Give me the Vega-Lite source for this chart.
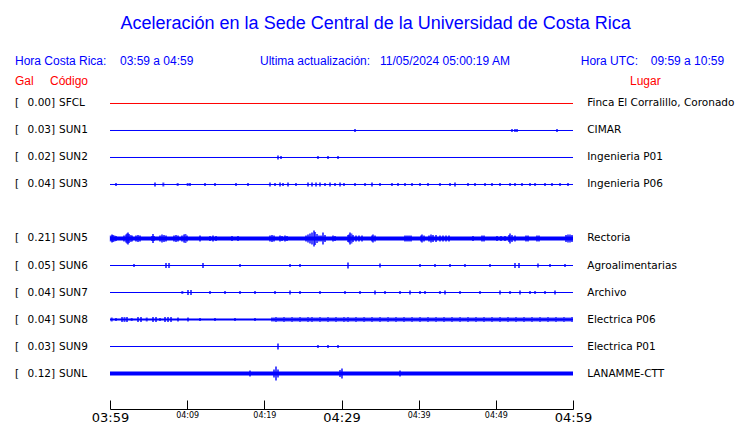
{
  "$schema": "https://vega.github.io/schema/vega-lite/v6.json",
  "width": 463,
  "height": 333,
  "autosize": {"type": "none"},
  "padding": {"left": 110, "top": 76, "right": 167, "bottom": 14},
  "background": "white",
  "config": {"view": {"stroke": null}, "axisY": {"disable": true}},
  "datasets": {
    "estaciones": [
      {"codigo": "SFCL", "gal": 0.00, "lugar": "Finca El Corralillo, Coronado", "fila": 1, "estado": "sin datos", "ruido": 1},
      {"codigo": "SUN1", "gal": 0.03, "lugar": "CIMAR", "fila": 2, "estado": "activa", "ruido": 1},
      {"codigo": "SUN2", "gal": 0.02, "lugar": "Ingenieria P01", "fila": 3, "estado": "activa", "ruido": 1},
      {"codigo": "SUN3", "gal": 0.04, "lugar": "Ingenieria P06", "fila": 4, "estado": "activa", "ruido": 1},
      {"codigo": "SUN5", "gal": 0.21, "lugar": "Rectoria", "fila": 6, "estado": "activa", "ruido": 4},
      {"codigo": "SUN6", "gal": 0.05, "lugar": "Agroalimentarias", "fila": 7, "estado": "activa", "ruido": 1},
      {"codigo": "SUN7", "gal": 0.04, "lugar": "Archivo", "fila": 8, "estado": "activa", "ruido": 1},
      {"codigo": "SUN8", "gal": 0.04, "lugar": "Electrica P06", "fila": 9, "estado": "activa", "ruido": 2},
      {"codigo": "SUN9", "gal": 0.03, "lugar": "Electrica P01", "fila": 10, "estado": "activa", "ruido": 1},
      {"codigo": "SUNL", "gal": 0.12, "lugar": "LANAMME-CTT", "fila": 11, "estado": "activa", "ruido": 4}
    ],
    "picos": [
      {"s": "SUN1", "t": 31.75, "a": 3}, {"s": "SUN1", "t": 52.09, "a": 3}, {"s": "SUN1", "t": 52.48, "a": 3}, {"s": "SUN1", "t": 52.74, "a": 3}, {"s": "SUN1", "t": 57.93, "a": 3},
      {"s": "SUN2", "t": 21.77, "a": 4}, {"s": "SUN2", "t": 22.16, "a": 3}, {"s": "SUN2", "t": 26.95, "a": 3}, {"s": "SUN2", "t": 28.25, "a": 3}, {"s": "SUN2", "t": 29.55, "a": 3},
      {"s": "SUN3", "t": 0.78, "a": 3}, {"s": "SUN3", "t": 5.83, "a": 4}, {"s": "SUN3", "t": 6.91, "a": 4}, {"s": "SUN3", "t": 8.77, "a": 3}, {"s": "SUN3", "t": 10.07, "a": 3}, {"s": "SUN3", "t": 10.37, "a": 3}, {"s": "SUN3", "t": 12.31, "a": 3}, {"s": "SUN3", "t": 13.61, "a": 3}, {"s": "SUN3", "t": 16.33, "a": 3}, {"s": "SUN3", "t": 17.88, "a": 3}, {"s": "SUN3", "t": 20.73, "a": 4}, {"s": "SUN3", "t": 21.38, "a": 3}, {"s": "SUN3", "t": 22.03, "a": 4}, {"s": "SUN3", "t": 22.42, "a": 3}, {"s": "SUN3", "t": 23.07, "a": 4}, {"s": "SUN3", "t": 24.1, "a": 3}, {"s": "SUN3", "t": 25.66, "a": 4}, {"s": "SUN3", "t": 26.18, "a": 4}, {"s": "SUN3", "t": 26.7, "a": 4}, {"s": "SUN3", "t": 27.21, "a": 4}, {"s": "SUN3", "t": 27.86, "a": 3}, {"s": "SUN3", "t": 28.51, "a": 4}, {"s": "SUN3", "t": 29.16, "a": 3}, {"s": "SUN3", "t": 29.81, "a": 4}, {"s": "SUN3", "t": 30.32, "a": 3}, {"s": "SUN3", "t": 31.75, "a": 3}, {"s": "SUN3", "t": 33.05, "a": 3}, {"s": "SUN3", "t": 33.95, "a": 4}, {"s": "SUN3", "t": 34.99, "a": 3}, {"s": "SUN3", "t": 36.54, "a": 3}, {"s": "SUN3", "t": 37.32, "a": 3}, {"s": "SUN3", "t": 38.23, "a": 3}, {"s": "SUN3", "t": 39.14, "a": 3}, {"s": "SUN3", "t": 40.17, "a": 3}, {"s": "SUN3", "t": 41.21, "a": 3}, {"s": "SUN3", "t": 42.76, "a": 3}, {"s": "SUN3", "t": 44.06, "a": 3}, {"s": "SUN3", "t": 44.71, "a": 4}, {"s": "SUN3", "t": 46.39, "a": 3}, {"s": "SUN3", "t": 47.3, "a": 3}, {"s": "SUN3", "t": 48.6, "a": 3}, {"s": "SUN3", "t": 49.5, "a": 3}, {"s": "SUN3", "t": 50.54, "a": 3}, {"s": "SUN3", "t": 51.84, "a": 3}, {"s": "SUN3", "t": 52.48, "a": 3}, {"s": "SUN3", "t": 53.39, "a": 3}, {"s": "SUN3", "t": 54.43, "a": 3}, {"s": "SUN3", "t": 55.08, "a": 3}, {"s": "SUN3", "t": 56.37, "a": 3}, {"s": "SUN3", "t": 57.28, "a": 3}, {"s": "SUN3", "t": 58.32, "a": 3}, {"s": "SUN3", "t": 59.35, "a": 3},
      {"s": "SUN5", "t": 0.1, "a": 6}, {"s": "SUN5", "t": 0.26, "a": 8}, {"s": "SUN5", "t": 0.39, "a": 7}, {"s": "SUN5", "t": 0.58, "a": 6}, {"s": "SUN5", "t": 0.78, "a": 5},
      {"s": "SUN5", "t": 1.81, "a": 6}, {"s": "SUN5", "t": 2.07, "a": 8}, {"s": "SUN5", "t": 2.2, "a": 10}, {"s": "SUN5", "t": 2.33, "a": 12}, {"s": "SUN5", "t": 2.46, "a": 9}, {"s": "SUN5", "t": 2.66, "a": 7}, {"s": "SUN5", "t": 2.85, "a": 6},
      {"s": "SUN5", "t": 3.37, "a": 6}, {"s": "SUN5", "t": 3.63, "a": 7}, {"s": "SUN5", "t": 3.89, "a": 6},
      {"s": "SUN5", "t": 5.44, "a": 5}, {"s": "SUN5", "t": 5.57, "a": 9}, {"s": "SUN5", "t": 5.7, "a": 5},
      {"s": "SUN5", "t": 6.48, "a": 6}, {"s": "SUN5", "t": 6.74, "a": 8}, {"s": "SUN5", "t": 7.0, "a": 7}, {"s": "SUN5", "t": 7.26, "a": 6},
      {"s": "SUN5", "t": 8.29, "a": 6}, {"s": "SUN5", "t": 8.55, "a": 7}, {"s": "SUN5", "t": 8.81, "a": 6},
      {"s": "SUN5", "t": 9.33, "a": 6}, {"s": "SUN5", "t": 9.59, "a": 8}, {"s": "SUN5", "t": 9.78, "a": 9}, {"s": "SUN5", "t": 9.98, "a": 6},
      {"s": "SUN5", "t": 11.66, "a": 6},
      {"s": "SUN5", "t": 12.96, "a": 5}, {"s": "SUN5", "t": 13.35, "a": 6}, {"s": "SUN5", "t": 13.74, "a": 5},
      {"s": "SUN5", "t": 15.81, "a": 5}, {"s": "SUN5", "t": 16.59, "a": 5},
      {"s": "SUN5", "t": 20.73, "a": 6}, {"s": "SUN5", "t": 20.99, "a": 7}, {"s": "SUN5", "t": 21.25, "a": 6},
      {"s": "SUN5", "t": 22.03, "a": 6}, {"s": "SUN5", "t": 22.29, "a": 5}, {"s": "SUN5", "t": 22.68, "a": 6}, {"s": "SUN5", "t": 22.94, "a": 5},
      {"s": "SUN5", "t": 25.4, "a": 6}, {"s": "SUN5", "t": 25.66, "a": 8}, {"s": "SUN5", "t": 25.92, "a": 10}, {"s": "SUN5", "t": 26.18, "a": 12}, {"s": "SUN5", "t": 26.44, "a": 16}, {"s": "SUN5", "t": 26.57, "a": 13}, {"s": "SUN5", "t": 26.83, "a": 9}, {"s": "SUN5", "t": 27.08, "a": 6},
      {"s": "SUN5", "t": 27.34, "a": 6}, {"s": "SUN5", "t": 27.6, "a": 12}, {"s": "SUN5", "t": 27.86, "a": 7},
      {"s": "SUN5", "t": 28.9, "a": 6}, {"s": "SUN5", "t": 29.16, "a": 5},
      {"s": "SUN5", "t": 30.84, "a": 7}, {"s": "SUN5", "t": 30.97, "a": 8}, {"s": "SUN5", "t": 31.1, "a": 12}, {"s": "SUN5", "t": 31.29, "a": 10}, {"s": "SUN5", "t": 31.49, "a": 7},
      {"s": "SUN5", "t": 31.88, "a": 6}, {"s": "SUN5", "t": 32.27, "a": 6}, {"s": "SUN5", "t": 32.66, "a": 6},
      {"s": "SUN5", "t": 33.95, "a": 6}, {"s": "SUN5", "t": 34.08, "a": 8}, {"s": "SUN5", "t": 34.34, "a": 6},
      {"s": "SUN5", "t": 38.23, "a": 6}, {"s": "SUN5", "t": 38.49, "a": 6}, {"s": "SUN5", "t": 38.75, "a": 6}, {"s": "SUN5", "t": 39.01, "a": 6},
      {"s": "SUN5", "t": 40.3, "a": 6}, {"s": "SUN5", "t": 40.43, "a": 8}, {"s": "SUN5", "t": 40.69, "a": 6},
      {"s": "SUN5", "t": 41.34, "a": 6}, {"s": "SUN5", "t": 41.6, "a": 8}, {"s": "SUN5", "t": 41.86, "a": 7}, {"s": "SUN5", "t": 42.25, "a": 7},
      {"s": "SUN5", "t": 42.76, "a": 6}, {"s": "SUN5", "t": 43.15, "a": 6}, {"s": "SUN5", "t": 43.54, "a": 6}, {"s": "SUN5", "t": 43.93, "a": 6},
      {"s": "SUN5", "t": 47.04, "a": 5}, {"s": "SUN5", "t": 48.21, "a": 6}, {"s": "SUN5", "t": 48.47, "a": 6},
      {"s": "SUN5", "t": 50.15, "a": 5}, {"s": "SUN5", "t": 50.67, "a": 5}, {"s": "SUN5", "t": 51.19, "a": 5},
      {"s": "SUN5", "t": 51.71, "a": 7}, {"s": "SUN5", "t": 51.84, "a": 10}, {"s": "SUN5", "t": 52.09, "a": 7}, {"s": "SUN5", "t": 52.48, "a": 6},
      {"s": "SUN5", "t": 53.91, "a": 6}, {"s": "SUN5", "t": 54.17, "a": 6}, {"s": "SUN5", "t": 55.33, "a": 6}, {"s": "SUN5", "t": 55.59, "a": 6},
      {"s": "SUN5", "t": 59.09, "a": 7}, {"s": "SUN5", "t": 59.35, "a": 8}, {"s": "SUN5", "t": 59.61, "a": 8}, {"s": "SUN5", "t": 59.87, "a": 7},
      {"s": "SUN6", "t": 3.11, "a": 3}, {"s": "SUN6", "t": 7.26, "a": 5}, {"s": "SUN6", "t": 7.65, "a": 5}, {"s": "SUN6", "t": 12.05, "a": 5}, {"s": "SUN6", "t": 16.85, "a": 3}, {"s": "SUN6", "t": 23.33, "a": 3}, {"s": "SUN6", "t": 24.62, "a": 3}, {"s": "SUN6", "t": 30.84, "a": 6}, {"s": "SUN6", "t": 34.99, "a": 4}, {"s": "SUN6", "t": 40.17, "a": 3}, {"s": "SUN6", "t": 42.12, "a": 3}, {"s": "SUN6", "t": 44.06, "a": 3}, {"s": "SUN6", "t": 46.0, "a": 3}, {"s": "SUN6", "t": 49.24, "a": 3}, {"s": "SUN6", "t": 52.48, "a": 5}, {"s": "SUN6", "t": 53.0, "a": 5}, {"s": "SUN6", "t": 55.46, "a": 4}, {"s": "SUN6", "t": 57.02, "a": 3}, {"s": "SUN6", "t": 58.96, "a": 3},
      {"s": "SUN7", "t": 9.37, "a": 3}, {"s": "SUN7", "t": 10.11, "a": 5}, {"s": "SUN7", "t": 10.5, "a": 5}, {"s": "SUN7", "t": 12.96, "a": 3}, {"s": "SUN7", "t": 14.9, "a": 3}, {"s": "SUN7", "t": 16.85, "a": 3}, {"s": "SUN7", "t": 18.79, "a": 3}, {"s": "SUN7", "t": 21.38, "a": 3}, {"s": "SUN7", "t": 23.33, "a": 4}, {"s": "SUN7", "t": 24.62, "a": 3}, {"s": "SUN7", "t": 27.21, "a": 3}, {"s": "SUN7", "t": 30.45, "a": 3}, {"s": "SUN7", "t": 32.4, "a": 3}, {"s": "SUN7", "t": 34.34, "a": 4}, {"s": "SUN7", "t": 35.64, "a": 3}, {"s": "SUN7", "t": 37.58, "a": 3}, {"s": "SUN7", "t": 38.88, "a": 4}, {"s": "SUN7", "t": 40.17, "a": 3}, {"s": "SUN7", "t": 40.82, "a": 3}, {"s": "SUN7", "t": 42.76, "a": 3}, {"s": "SUN7", "t": 43.41, "a": 4}, {"s": "SUN7", "t": 45.36, "a": 3}, {"s": "SUN7", "t": 47.95, "a": 3}, {"s": "SUN7", "t": 50.54, "a": 4}, {"s": "SUN7", "t": 51.84, "a": 3}, {"s": "SUN7", "t": 53.13, "a": 4}, {"s": "SUN7", "t": 54.43, "a": 3}, {"s": "SUN7", "t": 55.08, "a": 3}, {"s": "SUN7", "t": 56.37, "a": 3}, {"s": "SUN7", "t": 57.67, "a": 4},
      {"s": "SUN8", "t": 0.22, "a": 4}, {"s": "SUN8", "t": 0.78, "a": 3}, {"s": "SUN8", "t": 1.56, "a": 5}, {"s": "SUN8", "t": 1.88, "a": 5}, {"s": "SUN8", "t": 2.2, "a": 5}, {"s": "SUN8", "t": 2.81, "a": 3}, {"s": "SUN8", "t": 3.63, "a": 5}, {"s": "SUN8", "t": 4.02, "a": 5}, {"s": "SUN8", "t": 4.76, "a": 4}, {"s": "SUN8", "t": 5.57, "a": 5}, {"s": "SUN8", "t": 5.96, "a": 5}, {"s": "SUN8", "t": 6.48, "a": 3}, {"s": "SUN8", "t": 7.13, "a": 5}, {"s": "SUN8", "t": 7.52, "a": 5}, {"s": "SUN8", "t": 7.91, "a": 5}, {"s": "SUN8", "t": 8.81, "a": 4}, {"s": "SUN8", "t": 10.11, "a": 4}, {"s": "SUN8", "t": 11.66, "a": 3}, {"s": "SUN8", "t": 13.61, "a": 3}, {"s": "SUN8", "t": 16.2, "a": 3}, {"s": "SUN8", "t": 18.79, "a": 3},
      {"s": "SUN8", "t": 20.99, "a": 4}, {"s": "SUN8", "t": 21.25, "a": 4}, {"s": "SUN8", "t": 21.51, "a": 5}, {"s": "SUN8", "t": 21.77, "a": 4}, {"s": "SUN8", "t": 22.03, "a": 4}, {"s": "SUN8", "t": 22.29, "a": 4}, {"s": "SUN8", "t": 22.55, "a": 5}, {"s": "SUN8", "t": 22.81, "a": 4}, {"s": "SUN8", "t": 23.07, "a": 4}, {"s": "SUN8", "t": 23.33, "a": 4}, {"s": "SUN8", "t": 23.59, "a": 5}, {"s": "SUN8", "t": 23.85, "a": 4}, {"s": "SUN8", "t": 24.1, "a": 4}, {"s": "SUN8", "t": 24.36, "a": 4}, {"s": "SUN8", "t": 24.62, "a": 5}, {"s": "SUN8", "t": 24.88, "a": 4}, {"s": "SUN8", "t": 25.14, "a": 4}, {"s": "SUN8", "t": 25.4, "a": 4}, {"s": "SUN8", "t": 25.66, "a": 5}, {"s": "SUN8", "t": 25.92, "a": 4}, {"s": "SUN8", "t": 26.18, "a": 5}, {"s": "SUN8", "t": 26.44, "a": 4}, {"s": "SUN8", "t": 26.7, "a": 4}, {"s": "SUN8", "t": 26.95, "a": 4}, {"s": "SUN8", "t": 27.21, "a": 5}, {"s": "SUN8", "t": 27.47, "a": 4}, {"s": "SUN8", "t": 27.73, "a": 4}, {"s": "SUN8", "t": 27.99, "a": 4}, {"s": "SUN8", "t": 28.25, "a": 5}, {"s": "SUN8", "t": 28.51, "a": 4}, {"s": "SUN8", "t": 28.77, "a": 4}, {"s": "SUN8", "t": 29.03, "a": 4}, {"s": "SUN8", "t": 29.29, "a": 5}, {"s": "SUN8", "t": 29.55, "a": 4}, {"s": "SUN8", "t": 29.81, "a": 4}, {"s": "SUN8", "t": 30.06, "a": 4}, {"s": "SUN8", "t": 30.32, "a": 5}, {"s": "SUN8", "t": 30.58, "a": 4}, {"s": "SUN8", "t": 30.84, "a": 5}, {"s": "SUN8", "t": 31.1, "a": 4}, {"s": "SUN8", "t": 31.36, "a": 4}, {"s": "SUN8", "t": 31.62, "a": 4}, {"s": "SUN8", "t": 31.88, "a": 5}, {"s": "SUN8", "t": 32.14, "a": 4}, {"s": "SUN8", "t": 32.4, "a": 4}, {"s": "SUN8", "t": 32.66, "a": 4}, {"s": "SUN8", "t": 32.92, "a": 5}, {"s": "SUN8", "t": 33.17, "a": 4}, {"s": "SUN8", "t": 33.43, "a": 4}, {"s": "SUN8", "t": 33.69, "a": 4}, {"s": "SUN8", "t": 33.95, "a": 5}, {"s": "SUN8", "t": 34.21, "a": 4}, {"s": "SUN8", "t": 34.47, "a": 4}, {"s": "SUN8", "t": 34.73, "a": 4}, {"s": "SUN8", "t": 34.99, "a": 5}, {"s": "SUN8", "t": 35.25, "a": 4}, {"s": "SUN8", "t": 35.51, "a": 4}, {"s": "SUN8", "t": 35.77, "a": 4}, {"s": "SUN8", "t": 36.03, "a": 5}, {"s": "SUN8", "t": 36.29, "a": 4}, {"s": "SUN8", "t": 36.54, "a": 4}, {"s": "SUN8", "t": 36.8, "a": 4}, {"s": "SUN8", "t": 37.06, "a": 5}, {"s": "SUN8", "t": 37.32, "a": 4}, {"s": "SUN8", "t": 37.58, "a": 4}, {"s": "SUN8", "t": 37.84, "a": 4}, {"s": "SUN8", "t": 38.1, "a": 5}, {"s": "SUN8", "t": 38.36, "a": 4}, {"s": "SUN8", "t": 38.62, "a": 4}, {"s": "SUN8", "t": 38.88, "a": 4}, {"s": "SUN8", "t": 39.14, "a": 5}, {"s": "SUN8", "t": 39.4, "a": 4}, {"s": "SUN8", "t": 39.66, "a": 4}, {"s": "SUN8", "t": 39.92, "a": 4}, {"s": "SUN8", "t": 40.17, "a": 5}, {"s": "SUN8", "t": 40.43, "a": 4}, {"s": "SUN8", "t": 40.69, "a": 4}, {"s": "SUN8", "t": 40.95, "a": 4}, {"s": "SUN8", "t": 41.21, "a": 5}, {"s": "SUN8", "t": 41.47, "a": 4}, {"s": "SUN8", "t": 41.73, "a": 4}, {"s": "SUN8", "t": 41.99, "a": 4}, {"s": "SUN8", "t": 42.25, "a": 5}, {"s": "SUN8", "t": 42.51, "a": 4}, {"s": "SUN8", "t": 42.76, "a": 4}, {"s": "SUN8", "t": 43.02, "a": 4}, {"s": "SUN8", "t": 43.28, "a": 5}, {"s": "SUN8", "t": 43.54, "a": 4}, {"s": "SUN8", "t": 43.8, "a": 4}, {"s": "SUN8", "t": 44.06, "a": 4}, {"s": "SUN8", "t": 44.32, "a": 5}, {"s": "SUN8", "t": 44.58, "a": 4}, {"s": "SUN8", "t": 44.84, "a": 4}, {"s": "SUN8", "t": 45.1, "a": 4}, {"s": "SUN8", "t": 45.36, "a": 5}, {"s": "SUN8", "t": 45.62, "a": 4}, {"s": "SUN8", "t": 45.87, "a": 4}, {"s": "SUN8", "t": 46.13, "a": 4}, {"s": "SUN8", "t": 46.39, "a": 5}, {"s": "SUN8", "t": 46.65, "a": 4}, {"s": "SUN8", "t": 46.91, "a": 4}, {"s": "SUN8", "t": 47.17, "a": 4}, {"s": "SUN8", "t": 47.43, "a": 5}, {"s": "SUN8", "t": 47.69, "a": 4}, {"s": "SUN8", "t": 47.95, "a": 4}, {"s": "SUN8", "t": 48.21, "a": 4}, {"s": "SUN8", "t": 48.47, "a": 5}, {"s": "SUN8", "t": 48.73, "a": 4}, {"s": "SUN8", "t": 48.99, "a": 4}, {"s": "SUN8", "t": 49.24, "a": 4}, {"s": "SUN8", "t": 49.5, "a": 5}, {"s": "SUN8", "t": 49.76, "a": 4}, {"s": "SUN8", "t": 50.02, "a": 4}, {"s": "SUN8", "t": 50.28, "a": 4}, {"s": "SUN8", "t": 50.54, "a": 5}, {"s": "SUN8", "t": 50.8, "a": 4}, {"s": "SUN8", "t": 51.06, "a": 4}, {"s": "SUN8", "t": 51.32, "a": 4}, {"s": "SUN8", "t": 51.58, "a": 5}, {"s": "SUN8", "t": 51.84, "a": 4}, {"s": "SUN8", "t": 52.09, "a": 4}, {"s": "SUN8", "t": 52.35, "a": 4}, {"s": "SUN8", "t": 52.61, "a": 5}, {"s": "SUN8", "t": 52.87, "a": 4}, {"s": "SUN8", "t": 53.13, "a": 4}, {"s": "SUN8", "t": 53.39, "a": 4}, {"s": "SUN8", "t": 53.65, "a": 5}, {"s": "SUN8", "t": 53.91, "a": 4}, {"s": "SUN8", "t": 54.17, "a": 4}, {"s": "SUN8", "t": 54.43, "a": 4}, {"s": "SUN8", "t": 54.69, "a": 5}, {"s": "SUN8", "t": 54.95, "a": 4}, {"s": "SUN8", "t": 55.21, "a": 4}, {"s": "SUN8", "t": 55.46, "a": 4}, {"s": "SUN8", "t": 55.72, "a": 5}, {"s": "SUN8", "t": 55.98, "a": 4}, {"s": "SUN8", "t": 56.24, "a": 4}, {"s": "SUN8", "t": 56.5, "a": 4}, {"s": "SUN8", "t": 56.76, "a": 5}, {"s": "SUN8", "t": 57.02, "a": 4}, {"s": "SUN8", "t": 57.28, "a": 4}, {"s": "SUN8", "t": 57.54, "a": 4}, {"s": "SUN8", "t": 57.8, "a": 5}, {"s": "SUN8", "t": 58.06, "a": 4}, {"s": "SUN8", "t": 58.32, "a": 4}, {"s": "SUN8", "t": 58.57, "a": 4}, {"s": "SUN8", "t": 58.83, "a": 5}, {"s": "SUN8", "t": 59.09, "a": 4}, {"s": "SUN8", "t": 59.35, "a": 4}, {"s": "SUN8", "t": 59.61, "a": 4}, {"s": "SUN8", "t": 59.87, "a": 5},
      {"s": "SUN9", "t": 21.77, "a": 6}, {"s": "SUN9", "t": 26.95, "a": 3}, {"s": "SUN9", "t": 28.25, "a": 3}, {"s": "SUN9", "t": 29.55, "a": 3},
      {"s": "SUNL", "t": 18.14, "a": 6}, {"s": "SUNL", "t": 21.25, "a": 8}, {"s": "SUNL", "t": 21.51, "a": 14}, {"s": "SUNL", "t": 21.77, "a": 8}, {"s": "SUNL", "t": 29.81, "a": 7}, {"s": "SUNL", "t": 30.06, "a": 10}, {"s": "SUNL", "t": 37.58, "a": 6}
    ]
  },
  "layer": [
    {
      "data": {"name": "estaciones"},
      "mark": {"type": "rule", "strokeCap": "butt"},
      "encoding": {
        "x": {"datum": 0, "type": "quantitative",
          "scale": {"domain": [0, 60], "nice": false, "zero": false},
          "axis": {
            "title": null, "grid": false,
            "values": [0, 5, 10, 15, 20, 25, 30, 35, 40, 45, 50, 55, 60],
            "labelExpr": "datum.value % 10 == 0 ? timeFormat(datetime(2024, 10, 5, 3, 59 + datum.value), '%H:%M') : ''",
            "labelFontSize": {"condition": {"test": "datum.value % 30 == 0", "value": 13}, "value": 8},
            "labelFont": "DejaVu Sans", "labelColor": "black", "labelBaseline": "top",
            "labelFlush": false, "labelOverlap": false, "labelBound": false,
            "tickSize": -9, "labelPadding": 11, "tickColor": "black", "domainColor": "black",
            "tickWidth": 1, "domainWidth": 1
          }},
        "x2": {"datum": 60},
        "y": {"field": "fila", "type": "quantitative",
          "scale": {"domain": [-0.0185, 12.3148], "reverse": true, "nice": false, "zero": false}, "axis": null},
        "color": {"field": "estado", "type": "nominal",
          "scale": {"domain": ["activa", "sin datos"], "range": ["#0000ff", "#ff0000"]}, "legend": null},
        "strokeWidth": {"field": "ruido", "type": "quantitative",
          "scale": {"domain": [0, 5], "range": [0, 5]}, "legend": null}
      }
    },
    {
      "data": {"name": "picos"},
      "transform": [{"lookup": "s", "from": {"data": {"name": "estaciones"}, "key": "codigo", "fields": ["fila", "estado"]}}],
      "mark": {"type": "tick", "orient": "vertical", "thickness": 2},
      "encoding": {
        "x": {"field": "t", "type": "quantitative"},
        "y": {"field": "fila", "type": "quantitative", "axis": null},
        "size": {"field": "a", "type": "quantitative", "scale": {"domain": [0, 20], "range": [0, 20]}, "legend": null},
        "color": {"field": "estado", "type": "nominal",
          "scale": {"domain": ["activa", "sin datos"], "range": ["#0000ff", "#ff0000"]}, "legend": null}
      }
    },
    {
      "data": {"name": "estaciones"},
      "mark": {"type": "text", "text": "[", "align": "left", "baseline": "middle", "font": "DejaVu Sans", "fontSize": 10.5, "color": "black"},
      "encoding": {"x": {"datum": -12.311}, "y": {"field": "fila", "type": "quantitative", "axis": null}}
    },
    {
      "data": {"name": "estaciones"},
      "mark": {"type": "text", "align": "right", "baseline": "middle", "font": "DejaVu Sans", "fontSize": 10.5, "color": "black"},
      "encoding": {"x": {"datum": -7.646}, "y": {"field": "fila", "type": "quantitative", "axis": null},
        "text": {"field": "gal", "type": "quantitative", "format": ".2f"}}
    },
    {
      "data": {"name": "estaciones"},
      "mark": {"type": "text", "text": "]", "align": "left", "baseline": "middle", "font": "DejaVu Sans", "fontSize": 10.5, "color": "black"},
      "encoding": {"x": {"datum": -7.646}, "y": {"field": "fila", "type": "quantitative", "axis": null}}
    },
    {
      "data": {"name": "estaciones"},
      "mark": {"type": "text", "align": "left", "baseline": "middle", "font": "DejaVu Sans", "fontSize": 10.5, "color": "black"},
      "encoding": {"x": {"datum": -6.609}, "y": {"field": "fila", "type": "quantitative", "axis": null},
        "text": {"field": "codigo", "type": "nominal"}}
    },
    {
      "data": {"name": "estaciones"},
      "mark": {"type": "text", "align": "left", "baseline": "middle", "font": "DejaVu Sans", "fontSize": 10.5, "color": "black"},
      "encoding": {"x": {"datum": 61.85}, "y": {"field": "fila", "type": "quantitative", "axis": null},
        "text": {"field": "lugar", "type": "nominal"}}
    },
    {
      "data": {"values": [{}]},
      "mark": {"type": "text", "text": "Aceleración en la Sede Central de la Universidad de Costa Rica", "align": "center", "baseline": "alphabetic", "font": "Liberation Sans", "fontSize": 18, "color": "#0000ff"},
      "encoding": {"x": {"datum": 34.43}, "y": {"datum": -1.7593}}
    },
    {
      "data": {"values": [{}]},
      "mark": {"type": "text", "text": "Hora Costa Rica:", "align": "left", "baseline": "alphabetic", "font": "Liberation Sans", "fontSize": 12, "color": "#0000ff"},
      "encoding": {"x": {"datum": -12.311}, "y": {"datum": -0.4259}}
    },
    {
      "data": {"values": [{}]},
      "mark": {"type": "text", "text": "03:59 a 04:59", "align": "left", "baseline": "alphabetic", "font": "Liberation Sans", "fontSize": 12, "color": "#0000ff"},
      "encoding": {"x": {"datum": 1.296}, "y": {"datum": -0.4259}}
    },
    {
      "data": {"values": [{}]},
      "mark": {"type": "text", "text": "Ultima actualización:", "align": "left", "baseline": "alphabetic", "font": "Liberation Sans", "fontSize": 12, "color": "#0000ff"},
      "encoding": {"x": {"datum": 19.44}, "y": {"datum": -0.4259}}
    },
    {
      "data": {"values": [{}]},
      "mark": {"type": "text", "text": "11/05/2024 05:00:19 AM", "align": "left", "baseline": "alphabetic", "font": "Liberation Sans", "fontSize": 12, "color": "#0000ff"},
      "encoding": {"x": {"datum": 34.99}, "y": {"datum": -0.4259}}
    },
    {
      "data": {"values": [{}]},
      "mark": {"type": "text", "text": "Hora UTC:", "align": "left", "baseline": "alphabetic", "font": "Liberation Sans", "fontSize": 12, "color": "#0000ff"},
      "encoding": {"x": {"datum": 61.0}, "y": {"datum": -0.4259}}
    },
    {
      "data": {"values": [{}]},
      "mark": {"type": "text", "text": "09:59 a 10:59", "align": "left", "baseline": "alphabetic", "font": "Liberation Sans", "fontSize": 12, "color": "#0000ff"},
      "encoding": {"x": {"datum": 70.07}, "y": {"datum": -0.4259}}
    },
    {
      "data": {"values": [{}]},
      "mark": {"type": "text", "text": "Gal", "align": "left", "baseline": "alphabetic", "font": "Liberation Sans", "fontSize": 12, "color": "#ff0000"},
      "encoding": {"x": {"datum": -12.311}, "y": {"datum": 0.3148}}
    },
    {
      "data": {"values": [{}]},
      "mark": {"type": "text", "text": "Código", "align": "left", "baseline": "alphabetic", "font": "Liberation Sans", "fontSize": 12, "color": "#ff0000"},
      "encoding": {"x": {"datum": -7.775}, "y": {"datum": 0.3148}}
    },
    {
      "data": {"values": [{}]},
      "mark": {"type": "text", "text": "Lugar", "align": "left", "baseline": "alphabetic", "font": "Liberation Sans", "fontSize": 12, "color": "#ff0000"},
      "encoding": {"x": {"datum": 67.39}, "y": {"datum": 0.3148}}
    }
  ]
}
